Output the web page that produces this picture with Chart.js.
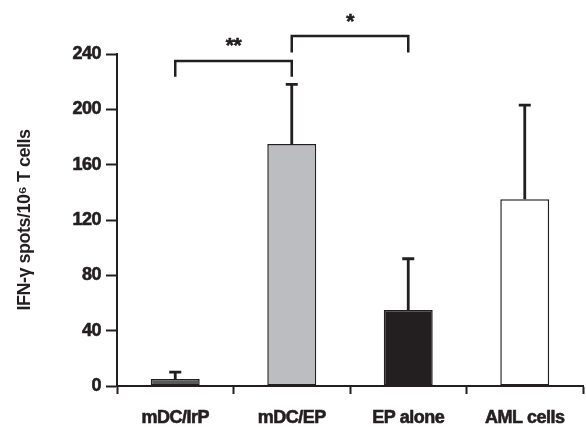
<!DOCTYPE html>
<html>
<head>
<meta charset="utf-8">
<script src="https://cdn.jsdelivr.net/npm/chart.js@4/dist/chart.umd.min.js"></script>
<style>
  html, body { margin: 0; padding: 0; background: #fff; }
  #wrap { width: 586px; height: 427px; position: relative; }
</style>
</head>
<body>
<div id="wrap"><canvas id="c"></canvas></div>
<script>
// ---- data ----
const categories = ['mDC/IrP', 'mDC/EP', 'EP alone', 'AML cells'];
const means = [5, 175, 55, 135];
const errorsUp = [5, 43, 37, 68];
const barColors = ['#58585a', '#bcbdc0', '#231f20', '#ffffff'];
const yTicks = [0, 40, 80, 120, 160, 200, 240];
const yTitle = 'IFN-\u03b3 spots/10\u2076 T cells';
// significance brackets: from/to category index, bracket top value, leg bottom value, label
const sigFrom = [0, 1];
const sigTo = [1, 2];
const sigTop = [235, 253];
const sigLeg = [223.5, 241];
const sigLabel = ['**', '*'];
const sigLabelValue = [249.5, 266.5];

const INK = '#231f20';
const FONT = "'Liberation Sans', Arial, sans-serif";

const spacingPlugin = {
  id: 'tightText',
  beforeUpdate(chart) { chart.ctx.letterSpacing = '-0.5px'; },
  beforeDraw(chart) { chart.ctx.letterSpacing = '-0.5px'; }
};

const errorBarPlugin = {
  id: 'errorBars',
  afterDatasetsDraw(chart) {
    const ctx = chart.ctx;
    const meta = chart.getDatasetMeta(0);
    const y = chart.scales.y;
    ctx.save();
    ctx.strokeStyle = INK;
    ctx.lineWidth = 2.8;
    meta.data.forEach((bar, i) => {
      const x = bar.x;
      const yTop = y.getPixelForValue(means[i]);
      const yErr = y.getPixelForValue(means[i] + errorsUp[i]);
      ctx.beginPath();
      ctx.moveTo(x, yTop);
      ctx.lineTo(x, yErr);
      ctx.moveTo(x - 6, yErr);
      ctx.lineTo(x + 6, yErr);
      ctx.stroke();
    });
    // significance brackets
    const xs = chart.scales.x;
    ctx.lineWidth = 2.5;
    ctx.lineCap = 'butt';
    for (let k = 0; k < sigFrom.length; k++) {
      const x1 = xs.getPixelForValue(sigFrom[k]);
      const x2 = xs.getPixelForValue(sigTo[k]);
      const yt = y.getPixelForValue(sigTop[k]);
      const yl = y.getPixelForValue(sigLeg[k]);
      ctx.beginPath();
      ctx.moveTo(x1, yl);
      ctx.lineTo(x1, yt);
      ctx.lineTo(x2, yt);
      ctx.lineTo(x2, yl);
      ctx.stroke();
      ctx.fillStyle = INK;
      ctx.strokeStyle = INK;
      ctx.lineWidth = 0.6;
      ctx.font = 'bold 21px ' + FONT;
      ctx.textAlign = 'center';
      ctx.textBaseline = 'alphabetic';
      const yc = y.getPixelForValue(sigLabelValue[k]);
      ctx.fillText(sigLabel[k], (x1 + x2) / 2, yc + 11);
      ctx.strokeText(sigLabel[k], (x1 + x2) / 2, yc + 11);
      ctx.lineWidth = 2.5;
    }
    ctx.restore();
  }
};

new Chart(document.getElementById('c'), {
  type: 'bar',
  data: {
    labels: categories,
    datasets: [{
      data: means,
      backgroundColor: barColors,
      borderColor: INK,
      borderWidth: 1.5,
      borderSkipped: false,
      barPercentage: 0.42,
      categoryPercentage: 1.0
    }]
  },
  options: {
    responsive: true,
    maintainAspectRatio: false,
    animation: false,
    layout: { padding: { top: 54, right: 3, left: 0, bottom: 0 } },
    plugins: { legend: { display: false }, tooltip: { enabled: false } },
    scales: {
      x: {
        offset: true,
        grid: { display: true, drawOnChartArea: false, drawTicks: true, tickLength: 8, tickWidth: 2, tickColor: INK, offset: true },
        border: { display: true, color: INK, width: 2 },
        ticks: { color: INK, font: { family: FONT, size: 18, weight: 'bold' }, padding: 13, maxRotation: 0, textStrokeColor: INK, textStrokeWidth: 0.6 },
        afterFit(s) { s.height = 41; }
      },
      y: {
        min: 0, max: 240,
        afterBuildTicks(s) { s.ticks = yTicks.map(v => ({ value: v })); },
        grid: { display: true, drawOnChartArea: false, drawTicks: true, tickLength: 11, tickWidth: 2, tickColor: INK },
        border: { display: true, color: INK, width: 2 },
        ticks: { color: INK, font: { family: FONT, size: 18, weight: 'bold' }, padding: 5, textStrokeColor: INK, textStrokeWidth: 0.6 },
        title: { display: true, text: yTitle, color: INK, font: { family: FONT, size: 18, weight: 'bold' }, padding: { top: 14, bottom: 0 } },
        afterFit(s) { s.width = 117; }
      }
    }
  },
  plugins: [spacingPlugin, errorBarPlugin]
});
</script>
</body>
</html>
